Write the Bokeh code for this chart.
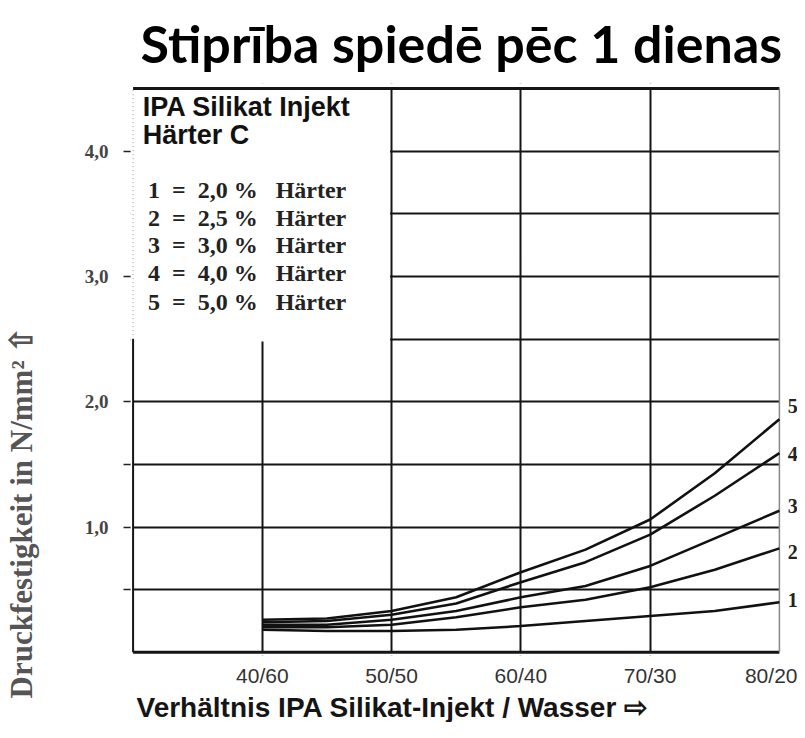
from bokeh.plotting import figure
from bokeh.models import Range1d, FixedTicker, Label, BoxAnnotation, Title
from bokeh.embed import file_html
from bokeh.resources import INLINE

# ---- data ----
ratio = [40, 45, 50, 55, 60, 65, 70, 75, 80]            # % IPA Silikat-Injekt
curve1 = [0.18, 0.17, 0.17, 0.18, 0.21, 0.25, 0.29, 0.33, 0.40]  # 2,0 % Härter
curve2 = [0.20, 0.20, 0.22, 0.28, 0.36, 0.42, 0.52, 0.66, 0.83]  # 2,5 % Härter
curve3 = [0.22, 0.22, 0.26, 0.33, 0.44, 0.53, 0.69, 0.91, 1.13]  # 3,0 % Härter
curve4 = [0.24, 0.25, 0.30, 0.39, 0.56, 0.72, 0.94, 1.25, 1.59]  # 4,0 % Härter
curve5 = [0.26, 0.27, 0.33, 0.44, 0.64, 0.82, 1.06, 1.43, 1.86]  # 5,0 % Härter
curve_names = ["1", "2", "3", "4", "5"]
NB = "\u00a0"
legend_lines = [f"{n}{NB}{NB}={NB}{NB}{v}{NB}%{NB}{NB}{NB}Härter"
                for n, v in zip(curve_names, ["2,0", "2,5", "3,0", "4,0", "5,0"])]

x_ticks = [40, 50, 60, 70, 80]
x_tick_labels = ["40/60", "50/50", "60/40", "70/30", "80/20"]
y_ticks = [1, 2, 3, 4]
y_tick_labels = ["1,0", "2,0", "3,0", "4,0"]
y_grid = [0.5, 1.0, 1.5, 2.0, 2.5, 3.0, 3.5, 4.0]
x_grid = [40, 50, 60, 70]

x_min, x_max, y_min, y_max = 30, 80, 0, 4.5
box_right, box_bottom = 50, 2.5

title = "Stiprība spiedē pēc 1 dienas"
x_label = "Verhältnis IPA Silikat-Injekt / Wasser ⇨"
y_label = "Druckfestigkeit in N/mm² ⇧"

p = figure(width=797, height=722,
           x_range=Range1d(29.8, 81.4), y_range=Range1d(-0.025, 4.54),
           output_backend="svg", toolbar_location=None,
           min_border_left=130, min_border_right=0,
           min_border_top=83, min_border_bottom=66)
p.outline_line_color = None
p.background_fill_color = "white"

# title
p.title.text = title
p.title.text_font = "Lato"
p.title.text_font_style = "bold"
p.title.text_font_size = "52px"
p.title.text_color = "#000000"
p.title.align = "left"
p.title.offset = 10
p.title.standoff = 19

# x axis (tick labels only)
p.xaxis.ticker = FixedTicker(ticks=x_ticks)
p.xaxis.major_label_overrides = {t: l for t, l in zip(x_ticks, x_tick_labels)}
p.xaxis.axis_line_color = None
p.xaxis.major_tick_line_color = None
p.xaxis.minor_tick_line_color = None
p.xaxis.major_label_standoff = 2
p.xaxis.major_label_text_font = "Liberation Sans"
p.xaxis.major_label_text_font_size = "21px"
p.xaxis.major_label_text_color = "#333333"

# x axis title
p.add_layout(Title(text=x_label, align="left", offset=6, standoff=0,
                   text_font="Liberation Sans", text_font_size="28px",
                   text_font_style="bold", text_color="#151515"), "below")

# y axis
p.yaxis.ticker = FixedTicker(ticks=y_ticks, minor_ticks=[0.5, 1.5])
p.yaxis.major_label_overrides = {t: l for t, l in zip(y_ticks, y_tick_labels)}
p.yaxis.axis_line_color = None
p.yaxis.major_tick_out = 7
p.yaxis.major_tick_in = 0
p.yaxis.minor_tick_out = 7
p.yaxis.minor_tick_in = 0
p.yaxis.major_tick_line_color = "#222222"
p.yaxis.minor_tick_line_color = "#222222"
p.yaxis.major_tick_line_width = 1.5
p.yaxis.minor_tick_line_width = 1.5
p.yaxis.major_label_standoff = 15
p.yaxis.major_label_text_font = "Liberation Serif"
p.yaxis.major_label_text_font_style = "bold"
p.yaxis.major_label_text_font_size = "19px"
p.yaxis.major_label_text_color = "#444444"
# blank spacer label keeps the axis title away from the tick labels
p.yaxis.axis_label = NB
p.yaxis.axis_label_standoff = 29
p.yaxis.axis_label_text_font_size = "10px"

# y axis title
p.add_layout(Title(text=y_label, align="left", offset=-43, standoff=0,
                   text_font="Liberation Serif", text_font_size="31px",
                   text_font_style="bold", text_color="#555555"), "left")

# grid
p.xgrid.ticker = FixedTicker(ticks=x_grid)
p.ygrid.ticker = FixedTicker(ticks=y_grid)
for g in (p.xgrid, p.ygrid):
    g.grid_line_color = "#151515"
    g.grid_line_width = 2
    g.grid_line_alpha = 1
    g.level = "image"

# white masks (legend box and edges outside the chart area)
mask = dict(fill_color="white", fill_alpha=1, line_color=None, level="underlay")
p.add_layout(BoxAnnotation(right=box_right - 0.12, bottom=box_bottom - 0.02, **mask))
p.add_layout(BoxAnnotation(top=y_min, **mask))
p.add_layout(BoxAnnotation(bottom=y_max, **mask))
p.add_layout(BoxAnnotation(right=x_min, **mask))
p.add_layout(BoxAnnotation(left=x_max, **mask))

# borders
p.segment(x0=[x_min], y0=[y_min], x1=[x_min], y1=[box_bottom], line_color="#151515", line_width=2)
p.segment(x0=[x_min], y0=[box_bottom], x1=[x_min], y1=[y_max], line_color="#999999",
          line_width=1, line_dash="1 3")
p.segment(x0=[x_min], y0=[y_max], x1=[x_max], y1=[y_max], line_color="#151515", line_width=3)
p.segment(x0=[x_min], y0=[y_min], x1=[x_max], y1=[y_min], line_color="#151515", line_width=3)
p.segment(x0=[x_max], y0=[y_min], x1=[x_max], y1=[y_max], line_color="#888888", line_width=1.5)

# curves
curves = [curve1, curve2, curve3, curve4, curve5]
for c in curves:
    p.line(ratio, c, line_color="#111111", line_width=2.6)

# curve numbers at right
name_y = [0.42, 0.80, 1.17, 1.58, 1.97]
for n, yy in zip(curve_names, name_y):
    p.add_layout(Label(x=80.65, y=yy, text=n, text_font="Liberation Serif",
                       text_font_style="bold", text_font_size="20px",
                       text_color="#222222", text_baseline="middle", text_align="left"))

# legend box text
p.add_layout(Label(x=30.75, y=4.35, text="IPA Silikat Injekt", text_font="Liberation Sans",
                   text_font_style="bold", text_font_size="27px", text_color="#111111",
                   text_baseline="middle"))
p.add_layout(Label(x=30.75, y=4.13, text="Härter C", text_font="Liberation Sans",
                   text_font_style="bold", text_font_size="27px", text_color="#111111",
                   text_baseline="middle"))
leg_y = [3.69, 3.47, 3.25, 3.03, 2.80]
for t, yy in zip(legend_lines, leg_y):
    p.add_layout(Label(x=31.15, y=yy, text=t, text_font="Liberation Serif",
                       text_font_style="bold", text_font_size="24px",
                       text_color="#222222", text_baseline="middle"))

open("out.html", "w").write(file_html(p, INLINE))
